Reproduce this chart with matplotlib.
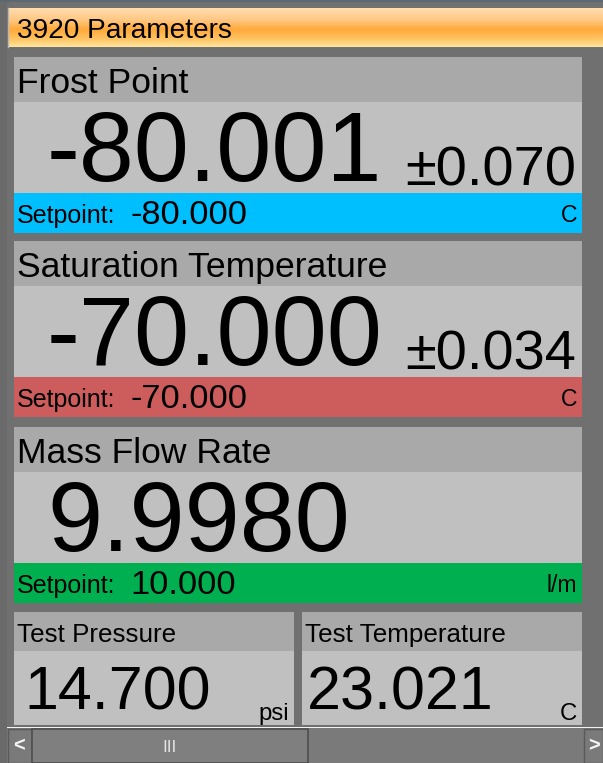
"""Recreate the '3920 Parameters' instrument panel as a matplotlib figure."""

import numpy as np
import matplotlib.pyplot as plt
from matplotlib.patches import Rectangle
from matplotlib.colors import LinearSegmentedColormap

plt.rcParams["font.family"] = ["Liberation Sans", "DejaVu Sans"]

TITLE = "3920 Parameters"

# large panels
PANEL_NAMES = ["Frost Point", "Saturation Temperature", "Mass Flow Rate"]
READINGS = ["-80.001", "-70.000", "9.9980"]
TOLERANCES = ["\u00b10.070", "\u00b10.034", ""]
SETPOINTS = ["-80.000", "-70.000", "10.000"]
UNITS = ["C", "C", "l/m"]
BAR_COLORS = ["#00bfff", "#cd5c5c", "#00b050"]

# small panels
SMALL_NAMES = ["Test Pressure", "Test Temperature"]
SMALL_READINGS = ["14.700", "23.021"]
SMALL_UNITS = ["psi", "C"]

W, H = 603, 763
BG = "#707070"
HEAD = "#a9a9a9"
BODY = "#c0c0c0"
PX = 72 / 100  # pixels -> points at dpi 100


def box(ax, x0, y0, x1, y1, fc, ec="none", lw=0, z=1):
    ax.add_patch(Rectangle((x0, y0), x1 - x0, y1 - y0, facecolor=fc,
                           edgecolor=ec, linewidth=lw, zorder=z))


def txt(ax, x, y, s, px, ha="left", color="black"):
    ax.text(x, y, s, fontsize=px * PX, ha=ha, va="baseline", color=color, zorder=5)


fig = plt.figure(figsize=(W / 100, H / 100), dpi=100)
ax = fig.add_axes([0, 0, 1, 1])
box(ax, 0, 0, W, H, BG, z=0)
box(ax, 0, 0, 7, H, "#6a6a6a", z=0)
box(ax, 0, 0, W, 2, "#5c6870", z=0)

# title bar with orange gradient
cmap = LinearSegmentedColormap.from_list(
    "orange", [(0, "#ffdcae"), (0.3, "#ffc883"), (0.55, "#ffa93a"),
               (0.8, "#ffc463"), (1, "#ffe49c")])
grad = np.linspace(0, 1, 64).reshape(-1, 1)
ax.imshow(grad, cmap=cmap, aspect="auto", extent=(8, W, 47, 8), zorder=1)
ax.plot([7.5, 7.5], [8, 47], color="#b8b8b8", lw=1, zorder=2)
ax.set_xlim(0, W)
ax.set_ylim(H, 0)
ax.axis("off")
txt(ax, 17, 38, TITLE, 28)

# big panels
tops = [57, 241, 427]
for i, top in enumerate(tops):
    x0, x1 = 14, 582
    box(ax, x0, top, x1, top + 45, HEAD)
    box(ax, x0, top + 45, x1, top + 136, BODY)
    box(ax, x0, top + 136, x1, top + 176, BAR_COLORS[i])
    txt(ax, 17, top + 36, PANEL_NAMES[i], 35.5)
    txt(ax, 47, top + 124, READINGS[i], 99)
    if TOLERANCES[i]:
        txt(ax, 576, top + 128, TOLERANCES[i], 56, ha="right")
    txt(ax, 17, top + 166, "Setpoint:", 25)
    txt(ax, 130, top + 167, SETPOINTS[i], 34.5)
    txt(ax, 577, top + 165, UNITS[i], 23, ha="right")

# small panels
for i, (x0, x1) in enumerate([(14, 294), (302, 582)]):
    box(ax, x0, 612, x1, 651, HEAD)
    box(ax, x0, 651, x1, 725, BODY)
    txt(ax, x0 + 3, 642, SMALL_NAMES[i], 26)
    txt(ax, x0 + 10 if i == 0 else x0 + 5, 710, SMALL_READINGS[i], 61)
    txt(ax, x1 - 5, 720, SMALL_UNITS[i], 24, ha="right")

# horizontal scrollbar
box(ax, 7, 726.5, W, 728, "#f2f2f2", z=2)
box(ax, 7, 728, W, H, "#7a7a7a", z=1)
box(ax, 7.5, 728.5, 32, H, "#7a7a7a", ec="#5a5a5a", lw=1, z=2)
box(ax, 32, 728.5, 308, H, "#7f7f7f", ec="#4e4e4e", lw=1.2, z=2)
box(ax, 584, 728.5, W, H, "#7a7a7a", ec="#5a5a5a", lw=1, z=2)
ax.text(19, 746, "<", fontsize=20 * PX, ha="center", va="center",
        color="#f4f4f4", fontweight="bold", zorder=5)
ax.text(594, 746, ">", fontsize=20 * PX, ha="center", va="center",
        color="#f4f4f4", fontweight="bold", zorder=5)
ax.text(170, 747, "III", fontsize=17 * PX, ha="center", va="center",
        color="#e4e4e4", zorder=5)

fig.savefig("out.png", dpi=100)
plt.close(fig)
